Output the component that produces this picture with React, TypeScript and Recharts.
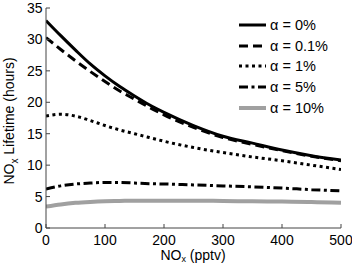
import { LineChart, Line, XAxis, YAxis, Legend } from 'recharts';

// NOx mixing ratio (pptv)
const noxPptv = [0, 25, 50, 75, 100, 125, 150, 175, 200, 250, 300, 350, 400, 450, 500];

// NOx lifetime (hours) for each alpha
const alpha0 = [33.0, 30.6, 28.3, 26.1, 24.2, 22.5, 21.0, 19.6, 18.4, 16.3, 14.6, 13.5, 12.4, 11.5, 10.8];
const alpha01 = [30.3, 28.4, 26.6, 24.9, 23.3, 21.8, 20.5, 19.2, 18.0, 16.0, 14.4, 13.3, 12.3, 11.4, 10.7];
const alpha1 = [17.8, 18.1, 17.8, 17.1, 16.3, 15.6, 15.0, 14.4, 13.8, 12.8, 12.0, 11.3, 10.7, 10.0, 9.3];
const alpha5 = [6.2, 6.7, 7.0, 7.15, 7.25, 7.25, 7.15, 7.05, 7.0, 6.85, 6.7, 6.55, 6.35, 6.1, 5.9];
const alpha10 = [3.4, 3.75, 4.0, 4.15, 4.25, 4.3, 4.35, 4.35, 4.35, 4.35, 4.3, 4.25, 4.2, 4.15, 4.0];

const xTicks = [0, 100, 200, 300, 400, 500];
const yTicks = [0, 5, 10, 15, 20, 25, 30, 35];

const series = [
  { key: 'a0', name: 'α = 0%', values: alpha0, color: '#000', width: 3, dash: undefined },
  { key: 'a01', name: 'α = 0.1%', values: alpha01, color: '#000', width: 3, dash: '9 5' },
  { key: 'a1', name: 'α = 1%', values: alpha1, color: '#000', width: 3, dash: '3 3.5' },
  { key: 'a5', name: 'α = 5%', values: alpha5, color: '#000', width: 3, dash: '9 3.5 3 3.5' },
  { key: 'a10', name: 'α = 10%', values: alpha10, color: '#a0a0a0', width: 4, dash: undefined },
];

const data = noxPptv.map((x, i) => {
  const row: Record<string, number> = { x };
  series.forEach(s => { row[s.key] = s.values[i]; });
  return row;
});

const font = '"Liberation Sans", Arial, Helvetica, sans-serif';
const axisColor = '#444';
const tickStyle = { fontSize: 14, fill: '#000', fontFamily: font };

function YLabel() {
  return (
    <text x={14} y={121} transform="rotate(-90 14 121)" textAnchor="middle"
      fontSize={14} fontFamily={font} fill="#000">
      NO<tspan fontSize={10} dy={4}>x</tspan><tspan dy={-4}> Lifetime (hours)</tspan>
    </text>
  );
}

function XLabel() {
  return (
    <text x={193} y={260} textAnchor="middle" fontSize={14} fontFamily={font} fill="#000">
      NO<tspan fontSize={9} dy={2}>x</tspan><tspan dy={-2}> (pptv)</tspan>
    </text>
  );
}

function LegendBox() {
  return (
    <div style={{ fontFamily: font, fontSize: 14.5, color: '#000' }}>
      {series.map(s => (
        <div key={s.key} style={{ display: 'flex', alignItems: 'center', height: 20.6 }}>
          <svg width={27} height={8} style={{ marginRight: 4 }}>
            <line x1={0} y1={4} x2={27} y2={4} stroke={s.color} strokeWidth={s.width}
              strokeDasharray={s.dash} />
          </svg>
          <span>{s.name}</span>
        </div>
      ))}
    </div>
  );
}

const emptyTick = () => <g />;

export default function App() {
  return (
    <div style={{ position: 'absolute', left: 0, top: 0 }}>
      <LineChart width={352} height={263} data={data}
        margin={{ top: 8, right: 11, left: 0, bottom: 0 }}>
        <XAxis dataKey="x" type="number" domain={[0, 500]} ticks={xTicks} allowDataOverflow
          height={35} tick={tickStyle} tickSize={-4} tickMargin={11}
          axisLine={{ stroke: axisColor }} tickLine={{ stroke: axisColor }}
          label={<XLabel />} />
        <XAxis xAxisId="top" orientation="top" type="number" domain={[0, 500]} ticks={xTicks}
          allowDataOverflow height={0} tick={emptyTick} tickSize={-4}
          axisLine={{ stroke: axisColor }} tickLine={{ stroke: axisColor }} />
        <YAxis type="number" domain={[0, 35]} ticks={yTicks} allowDataOverflow width={46}
          tick={tickStyle} tickSize={-4} tickMargin={7.5}
          axisLine={{ stroke: axisColor }} tickLine={{ stroke: axisColor }}
          label={<YLabel />} />
        <YAxis yAxisId="right" orientation="right" type="number" domain={[0, 35]} ticks={yTicks}
          allowDataOverflow width={0} tick={emptyTick} tickSize={-4}
          axisLine={{ stroke: axisColor }} tickLine={{ stroke: axisColor }} />
        <Legend layout="vertical" align="center" verticalAlign="middle" content={<LegendBox />}
          wrapperStyle={{ left: 239, top: 15, width: 110, height: 105 }} />
        {series.map(s => (
          <Line key={s.key} dataKey={s.key} name={s.name} type="monotone" stroke={s.color}
            strokeWidth={s.width} strokeDasharray={s.dash} dot={false} activeDot={false}
            isAnimationActive={false} />
        ))}
      </LineChart>
    </div>
  );
}
